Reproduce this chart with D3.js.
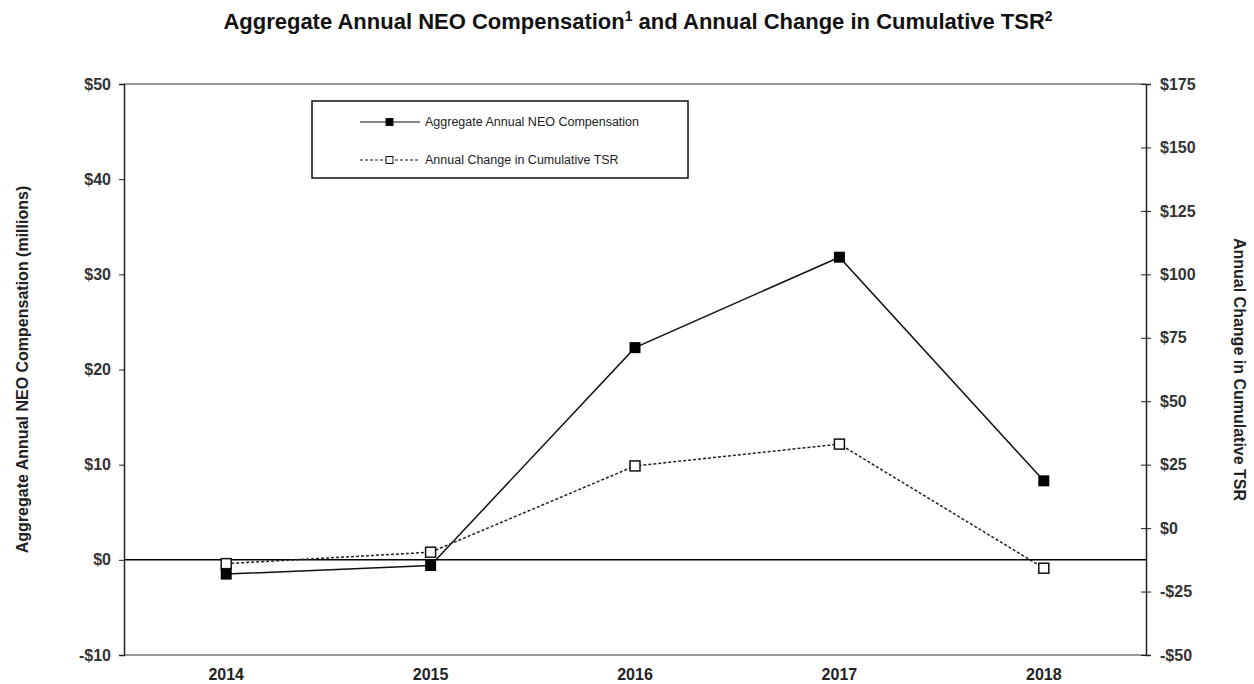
<!DOCTYPE html>
<html>
<head>
<meta charset="utf-8">
<script src="https://cdn.jsdelivr.net/npm/d3@7"></script>
<style>
  body { margin: 0; background: #fff; }
  text { font-family: "Liberation Sans", Arial, sans-serif; }
</style>
</head>
<body>
<script>
const years = ["2014", "2015", "2016", "2017", "2018"];
const neoComp = [-1.5, -0.6, 22.3, 31.8, 8.3];      // $ millions, left axis
const tsrChange = [-14, -9.5, 24.5, 33.1, -15.8];   // $, right axis
const leftTicks = [-10, 0, 10, 20, 30, 40, 50];
const rightTicks = [-50, -25, 0, 25, 50, 75, 100, 125, 150, 175];

const width = 1254;
const height = 684;
const marginLeft = 124;
const marginRight = 108;
const marginTop = 84;
const marginBottom = 29;

const svg = d3.select("body")
  .append("svg")
  .attr("width", width)
  .attr("height", height)
  .attr("viewBox", [0, 0, width, height]);

const xScale = d3.scaleBand(years, [marginLeft, width - marginRight]);
const yLeft = d3.scaleLinear([-10, 50], [height - marginBottom, marginTop]);
const yRight = d3.scaleLinear([-50, 175], [height - marginBottom, marginTop]);
const cx = d => xScale(d) + xScale.bandwidth() / 2;

// frame top / bottom
svg.append("line")
  .attr("x1", marginLeft).attr("x2", width - marginRight)
  .attr("y1", marginTop).attr("y2", marginTop)
  .attr("stroke", "#333").attr("stroke-width", 1);
svg.append("line")
  .attr("x1", marginLeft).attr("x2", width - marginRight)
  .attr("y1", height - marginBottom).attr("y2", height - marginBottom)
  .attr("stroke", "#777").attr("stroke-width", 1.5);

// zero line
svg.append("line")
  .attr("x1", marginLeft).attr("x2", width - marginRight)
  .attr("y1", yLeft(0)).attr("y2", yLeft(0))
  .attr("stroke", "#000").attr("stroke-width", 1.5);

const fmt = d => (d < 0 ? "-$" : "$") + Math.abs(d);

const leftAxis = svg.append("g")
  .attr("transform", `translate(${marginLeft},0)`)
  .call(d3.axisLeft(yLeft).tickValues(leftTicks).tickSize(5).tickPadding(8).tickFormat(fmt));

const rightAxis = svg.append("g")
  .attr("transform", `translate(${width - marginRight},0)`)
  .call(d3.axisRight(yRight).tickValues(rightTicks).tickSize(5).tickPadding(9).tickFormat(fmt));

rightAxis.selectAll(".tick line").attr("x1", -5);

[leftAxis, rightAxis].forEach(g => {
  g.select(".domain").attr("stroke", "#222").attr("stroke-width", 1.5);
  g.selectAll(".tick line").attr("stroke", "#222");
  g.selectAll(".tick text")
    .attr("font-size", 16)
    .attr("font-weight", "bold")
    .attr("fill", "#333");
});

// x labels
svg.append("g")
  .selectAll("text")
  .data(years)
  .join("text")
  .attr("x", cx)
  .attr("y", height - 4)
  .attr("text-anchor", "middle")
  .attr("font-size", 16)
  .attr("font-weight", "bold")
  .attr("fill", "#222")
  .text(d => d);

// lines
const lineNeo = d3.line()
  .x((d, i) => cx(years[i]))
  .y(d => yLeft(d));
const lineTsr = d3.line()
  .x((d, i) => cx(years[i]))
  .y(d => yRight(d));

svg.append("path")
  .attr("d", lineTsr(tsrChange))
  .attr("fill", "none")
  .attr("stroke", "#222")
  .attr("stroke-width", 1.5)
  .attr("stroke-dasharray", "3,2");

svg.append("path")
  .attr("d", lineNeo(neoComp))
  .attr("fill", "none")
  .attr("stroke", "#111")
  .attr("stroke-width", 1.5);

svg.append("g")
  .selectAll("rect")
  .data(neoComp)
  .join("rect")
  .attr("x", (d, i) => cx(years[i]) - 5.5)
  .attr("y", d => yLeft(d) - 5.5)
  .attr("width", 11)
  .attr("height", 11)
  .attr("fill", "#000");

svg.append("g")
  .selectAll("rect")
  .data(tsrChange)
  .join("rect")
  .attr("x", (d, i) => cx(years[i]) - 5)
  .attr("y", d => yRight(d) - 5)
  .attr("width", 10)
  .attr("height", 10)
  .attr("fill", "#fff")
  .attr("stroke", "#111")
  .attr("stroke-width", 1.5);

// legend
const legend = svg.append("g");
legend.append("rect")
  .attr("x", 312).attr("y", 101)
  .attr("width", 376).attr("height", 77)
  .attr("fill", "#fff")
  .attr("stroke", "#111")
  .attr("stroke-width", 1.5);

const legendItems = [
  { label: "Aggregate Annual NEO Compensation", dash: null, fill: "#000" },
  { label: "Annual Change in Cumulative TSR", dash: "3,2", fill: "#fff" }
];
legendItems.forEach((item, i) => {
  const y = 122 + i * 38;
  legend.append("line")
    .attr("x1", 360).attr("x2", 420)
    .attr("y1", y).attr("y2", y)
    .attr("stroke", "#111")
    .attr("stroke-width", 1.2)
    .attr("stroke-dasharray", item.dash);
  legend.append("rect")
    .attr("x", 386).attr("y", y - 3.5)
    .attr("width", 7).attr("height", 7)
    .attr("fill", item.fill)
    .attr("stroke", "#111")
    .attr("stroke-width", 1);
  legend.append("text")
    .attr("x", 425).attr("y", y + 4)
    .attr("font-size", 12.5)
    .attr("fill", "#222")
    .text(item.label);
});

// title
const title = svg.append("text")
  .attr("x", 638).attr("y", 29)
  .attr("text-anchor", "middle")
  .attr("font-size", 22)
  .attr("font-weight", "bold")
  .attr("fill", "#111");
title.append("tspan").text("Aggregate Annual NEO Compensation");
title.append("tspan").attr("font-size", 14).attr("dy", -8).text("1");
title.append("tspan").attr("dy", 8).text(" and Annual Change in Cumulative TSR");
title.append("tspan").attr("font-size", 14).attr("dy", -8).text("2");

// axis titles
svg.append("text")
  .attr("transform", `translate(28,${(marginTop + height - marginBottom) / 2}) rotate(-90)`)
  .attr("text-anchor", "middle")
  .attr("font-size", 16)
  .attr("font-weight", "bold")
  .attr("fill", "#222")
  .text("Aggregate Annual NEO Compensation (millions)");

svg.append("text")
  .attr("transform", `translate(1234,${(marginTop + height - marginBottom) / 2}) rotate(90)`)
  .attr("text-anchor", "middle")
  .attr("font-size", 16)
  .attr("font-weight", "bold")
  .attr("fill", "#222")
  .text("Annual Change in Cumulative TSR");
</script>
</body>
</html>
